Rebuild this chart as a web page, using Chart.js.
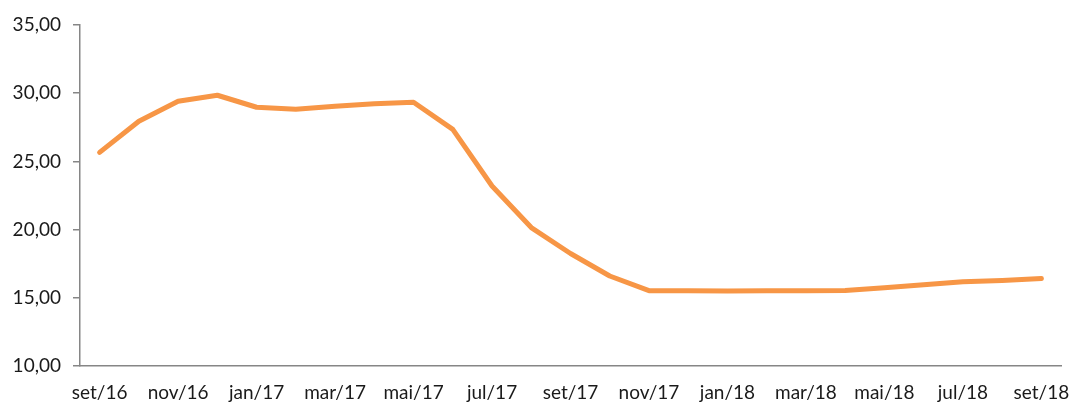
<!DOCTYPE html>
<html>
<head>
<meta charset="utf-8">
<script src="https://cdn.jsdelivr.net/npm/chart.js@4/dist/chart.umd.min.js"></script>
<style>
  html, body { margin: 0; padding: 0; background: #ffffff; }
  #wrap { width: 1071px; height: 403px; }
</style>
</head>
<body>
<div id="wrap"><canvas id="c" width="1071" height="403"></canvas></div>
<script>
const categories = [
  'set/16','out/16','nov/16','dez/16','jan/17','fev/17','mar/17','abr/17','mai/17',
  'jun/17','jul/17','ago/17','set/17','out/17','nov/17','dez/17','jan/18','fev/18',
  'mar/18','abr/18','mai/18','jun/18','jul/18','ago/18','set/18'
];
const values = [
  25.66, 27.94, 29.41, 29.85, 28.97, 28.82, 29.04, 29.23, 29.34,
  27.35, 23.2, 20.15, 18.25, 16.6, 15.52, 15.52, 15.5, 15.51,
  15.51, 15.53, 15.73, 15.96, 16.18, 16.27, 16.42
];
const yMin = 10, yMax = 35, yStep = 5;

new Chart(document.getElementById('c'), {
  type: 'line',
  data: {
    labels: categories,
    datasets: [{
      data: values,
      borderColor: '#F79646',
      borderWidth: 5,
      pointRadius: 0,
      borderCapStyle: 'round',
      borderJoinStyle: 'round',
      tension: 0,
      fill: false
    }]
  },
  options: {
    responsive: false,
    animation: false,
    devicePixelRatio: 1,
    layout: { padding: { top: 25, right: 10, bottom: 0, left: 0 } },
    plugins: { legend: { display: false }, tooltip: { enabled: false } },
    scales: {
      x: {
        offset: true,
        grid: { display: true, drawOnChartArea: false, drawTicks: false, color: '#868686' },
        border: { display: true, color: '#868686', width: 1.5 },
        afterFit: function(s) { s.height = 37; s.paddingLeft = 0; s.paddingRight = 0; },
        ticks: {
          autoSkip: false, maxRotation: 0, padding: 15,
          color: '#1a1a1a', font: { family: 'Lato', size: 19 },
          callback: function(v, i) { return i % 2 === 0 ? categories[i] : ''; }
        }
      },
      y: {
        min: yMin, max: yMax,
        grid: { display: true, drawOnChartArea: false, drawTicks: true, tickLength: 7, color: '#868686', lineWidth: 1.5 },
        border: { display: true, color: '#868686', width: 1.5 },
        afterFit: function(s) { s.width = 80; },
        ticks: {
          stepSize: yStep, padding: 12,
          color: '#1a1a1a', font: { family: 'Lato', size: 19 },
          callback: function(v) { return Number(v).toFixed(2).replace('.', ','); }
        }
      }
    }
  }
});
</script>
</body>
</html>
